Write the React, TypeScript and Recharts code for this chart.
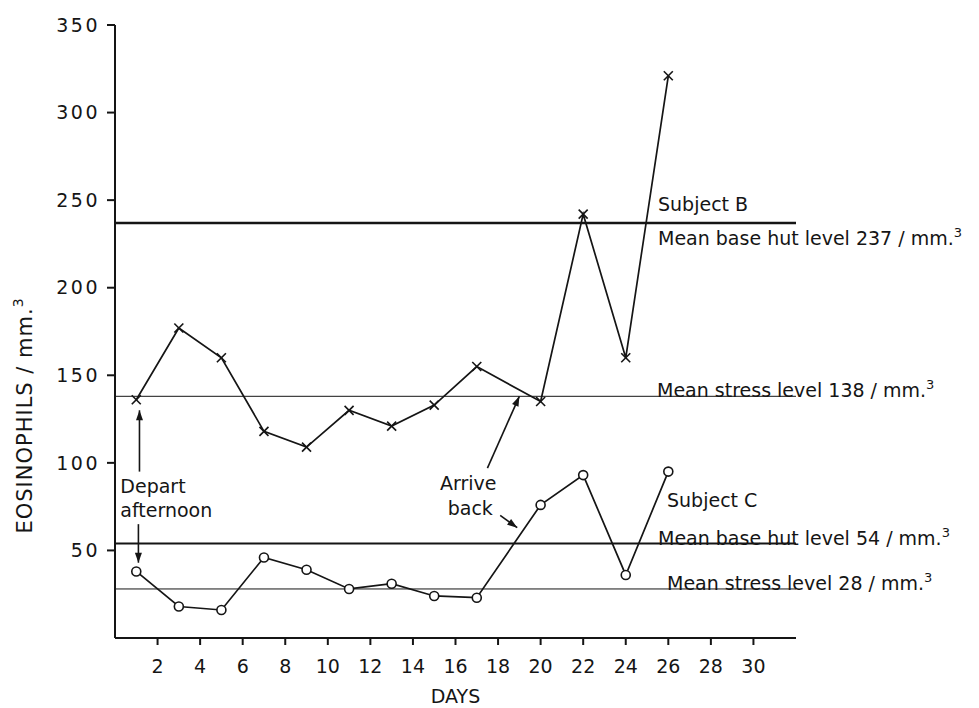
import React from "react";
import { LineChart, Line, XAxis, YAxis, ReferenceLine, ReferenceDot } from "recharts";

// eosinophil counts per day for the two subjects
const days = [1, 3, 5, 7, 9, 11, 13, 15, 17, 20, 22, 24, 26];
const subjectB = [136, 177, 160, 118, 109, 130, 121, 133, 155, 135, 242, 160, 321];
const subjectC = [38, 18, 16, 46, 39, 28, 31, 24, 23, 76, 93, 36, 95];
const yTicks = [50, 100, 150, 200, 250, 300, 350];
const xTicks = [2, 4, 6, 8, 10, 12, 14, 16, 18, 20, 22, 24, 26, 28, 30];
const baseLevels = [237, 54]; // B, C
const stressLevels = [138, 28]; // B, C

const ink = "#151515";
const font = "'DejaVu Sans', sans-serif";
const data = days.map((d, i) => ({ day: d, b: subjectB[i], c: subjectC[i] }));

const Cross = (p: any) => {
  const { cx, cy } = p;
  if (cx == null || cy == null) return null;
  return (
    <g stroke={ink} strokeWidth={1.6}>
      <line x1={cx - 4.5} y1={cy - 4.5} x2={cx + 4.5} y2={cy + 4.5} />
      <line x1={cx - 4.5} y1={cy + 4.5} x2={cx + 4.5} y2={cy - 4.5} />
    </g>
  );
};
const Ring = (p: any) => {
  const { cx, cy } = p;
  if (cx == null || cy == null) return null;
  return <circle cx={cx} cy={cy} r={4.5} fill="#fff" stroke={ink} strokeWidth={1.6} />;
};

const arrow = (p: any) => {
  const { x1, y1, x2, y2 } = p;
  const a = Math.atan2(y2 - y1, x2 - x1);
  const L = 10, W = 3.5;
  const bx = x2 - L * Math.cos(a), by = y2 - L * Math.sin(a);
  const pts = `${x2},${y2} ${bx + W * Math.sin(a)},${by - W * Math.cos(a)} ${bx - W * Math.sin(a)},${by + W * Math.cos(a)}`;
  return (
    <g>
      <line x1={x1} y1={y1} x2={x2} y2={y2} stroke={ink} strokeWidth={1.6} />
      <polygon points={pts} fill={ink} />
    </g>
  );
};

type Txt = { t: string; sup?: boolean; dx: number; dy: number; anchor?: string };
const texts = (items: Txt[]) => (p: any) => {
  const vb = p.viewBox || {};
  return (
    <g>
      {items.map((it, i) => (
        <text key={i} x={vb.x + it.dx} y={vb.y + it.dy} fill={ink} fontSize={19} fontFamily={font} textAnchor={it.anchor || "start"}>
          {it.t}
          {it.sup && <tspan dy={-8} fontSize={13}>3</tspan>}
        </text>
      ))}
    </g>
  );
};

const yLabel = (p: any) => {
  const vb = p.viewBox;
  const x = vb.x + 32, y = vb.y + vb.height * 0.637;
  return (
    <text x={x} y={y} transform={`rotate(-90, ${x}, ${y})`} textAnchor="middle" fill={ink} fontSize={21} letterSpacing={1} fontFamily={font}>
      EOSINOPHILS / mm.<tspan dy={-9} fontSize={14}>3</tspan>
    </text>
  );
};
const xLabel = (p: any) => {
  const vb = p.viewBox;
  return (
    <text x={vb.x + vb.width / 2} y={vb.y + 65} textAnchor="middle" fill={ink} fontSize={19} fontFamily={font}>DAYS</text>
  );
};

export default function App() {
  return (
    <div style={{ position: "absolute", left: 0, top: 0, width: 979, height: 708, background: "#fff" }}>
      <LineChart width={979} height={708} data={data} margin={{ top: 25, right: 183, bottom: 0, left: 0 }}>
        <XAxis dataKey="day" type="number" domain={[0, 32]} ticks={xTicks} allowDataOverflow
          height={70} tickSize={7} tickMargin={15} stroke={ink} strokeWidth={2}
          tick={{ fill: ink, fontSize: 19, fontFamily: font }} label={{ content: xLabel }} />
        <YAxis type="number" domain={[0, 350]} ticks={yTicks} width={115}
          tickSize={8} tickMargin={7} stroke={ink} strokeWidth={2}
          tick={{ fill: ink, fontSize: 19, fontFamily: font, letterSpacing: 2.5 }} label={{ content: yLabel }} />

        <ReferenceLine y={baseLevels[0]} stroke={ink} strokeWidth={2.5}
          label={{ content: texts([{ t: "Subject  B", dx: 543, dy: -12 }, { t: "Mean base hut level 237 / mm.", sup: true, dx: 543, dy: 22 }]) }} />
        <ReferenceLine y={stressLevels[0]} stroke={ink} strokeWidth={1}
          label={{ content: texts([{ t: "Mean stress level 138 / mm.", sup: true, dx: 542, dy: 1 }]) }} />
        <ReferenceLine y={baseLevels[1]} stroke={ink} strokeWidth={2}
          label={{ content: texts([{ t: "Subject  C", dx: 552, dy: -36 }, { t: "Mean base hut level 54 / mm.", sup: true, dx: 543, dy: 2 }]) }} />
        <ReferenceLine y={stressLevels[1]} stroke={ink} strokeWidth={1}
          label={{ content: texts([{ t: "Mean stress level 28 / mm.", sup: true, dx: 552, dy: 1 }]) }} />

        <ReferenceLine segment={[{ x: 1.15, y: 95 }, { x: 1.15, y: 130 }]} shape={arrow} />
        <ReferenceLine segment={[{ x: 1.1, y: 65 }, { x: 1.1, y: 43 }]} shape={arrow} />
        <ReferenceLine segment={[{ x: 17.5, y: 97 }, { x: 19.0, y: 138 }]} shape={arrow} />
        <ReferenceLine segment={[{ x: 18.1, y: 70 }, { x: 18.9, y: 63 }]} shape={arrow} />

        <ReferenceDot x={0.25} y={83} r={0} fill="none" stroke="none"
          label={{ content: texts([{ t: "Depart", dx: 0, dy: 0 }, { t: "afternoon", dx: 0, dy: 24 }]) }} />
        <ReferenceDot x={16.6} y={84.5} r={0} fill="none" stroke="none"
          label={{ content: texts([{ t: "Arrive", dx: 0, dy: 0, anchor: "middle" }, { t: "back", dx: 2, dy: 25, anchor: "middle" }]) }} />

        <Line dataKey="b" stroke={ink} strokeWidth={1.7} dot={<Cross />} activeDot={false} isAnimationActive={false} />
        <Line dataKey="c" stroke={ink} strokeWidth={1.7} dot={<Ring />} activeDot={false} isAnimationActive={false} />
      </LineChart>
    </div>
  );
}
